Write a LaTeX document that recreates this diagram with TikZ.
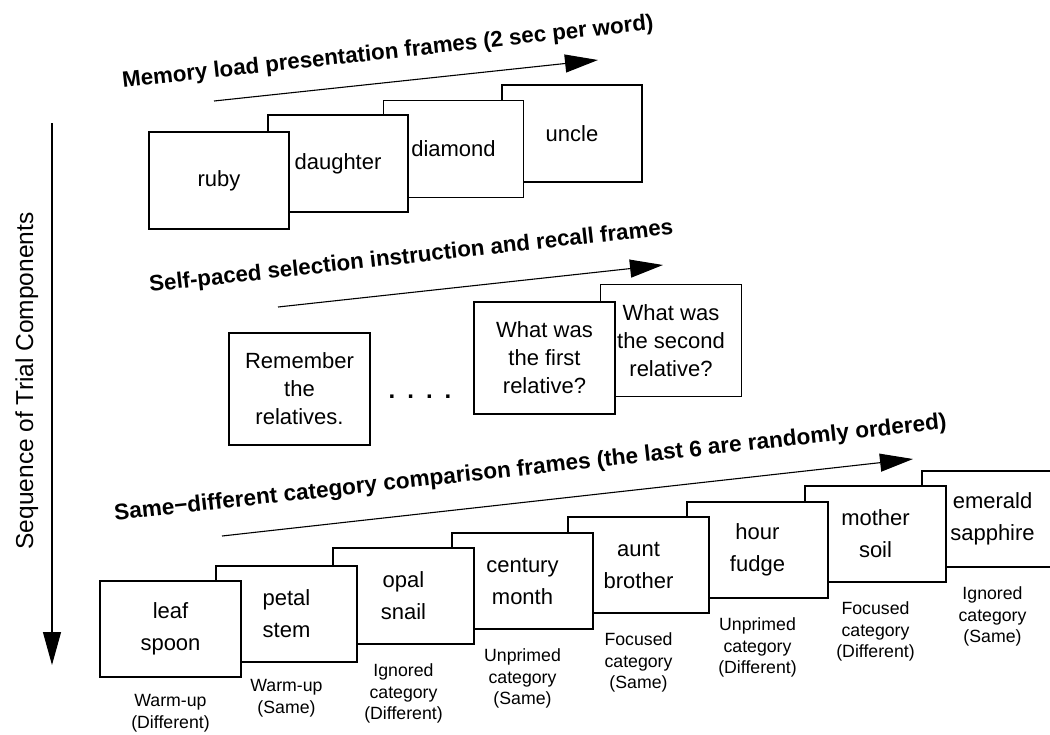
\documentclass[tikz,border=0pt]{standalone}
\usepackage{fontspec}
\setmainfont{Liberation Sans}
\usetikzlibrary{arrows.meta}
\begin{document}
\begin{tikzpicture}[x=1pt,y=-1pt,
  topframe/.style={draw,line width=1.3pt,fill=white,minimum width=140pt,minimum height=97pt,inner sep=0pt,align=center,font=\fontsize{22}{28}\selectfont},
  midframe/.style={draw,line width=1.3pt,fill=white,minimum width=141pt,minimum height=112pt,inner sep=0pt,align=center,font=\fontsize{22}{28}\selectfont},
  botframe/.style={draw,line width=1.3pt,fill=white,minimum width=141pt,minimum height=96pt,inner sep=0pt,align=center,font=\fontsize{22}{32}\selectfont},
  caption/.style={anchor=north,inner sep=0pt,align=center,font=\fontsize{17.7}{21.5}\selectfont},
  title/.style={anchor=base west,inner sep=0pt,rotate=6.3,font=\bfseries\fontsize{22.3}{26}\selectfont},
  side/.style={anchor=base,inner sep=0pt,rotate=90,font=\fontsize{24.5}{28}\selectfont},
  dotrow/.style={anchor=base,inner sep=0pt,font=\bfseries\fontsize{24}{24}\selectfont},
  seqarrow/.style={line width=1.1pt,-{Triangle[length=33pt,width=18pt]}}]
\useasboundingbox (0,0) rectangle (1050,734);

% side label and vertical arrow
\node[side] (side) at (33,381) {Sequence of Trial Components};
\coordinate (vs) at (52,123);
\coordinate (ve) at (52,665);
\draw[seqarrow] (vs) -- (ve);

% ---- memory load presentation frames
\node[title] (t1) at (123,88) {Memory load presentation frames (2 sec per word)};
\coordinate (a1s) at (214,101);
\coordinate (a1e) at (598,60);
\draw[seqarrow] (a1s) -- (a1e);
\node[topframe] (r4) at (572,133.5) {uncle};
\node[topframe] (r3) at (453.5,149) {diamond};
\node[topframe] (r2) at (338,163.5) {daughter};
\node[topframe] (r1) at (219,180.5) {ruby};

% ---- self-paced selection instruction and recall frames
\node[title] (t2) at (150,292) {Self-paced selection instruction and recall frames};
\coordinate (a2s) at (278,307);
\coordinate (a2e) at (663,265);
\draw[seqarrow] (a2s) -- (a2e);
\node[midframe] (m3) at (671,340.5) {What was\\the second\\relative?};
\node[midframe] (m2) at (544.5,358) {What was\\the first\\relative?};
\node[midframe] (m1) at (299.5,389) {Remember\\the\\relatives.};
\node[dotrow] (dots) at (420,398) {.\hspace{12pt}.\hspace{12pt}.\hspace{12pt}.};

% ---- same-different category comparison frames
\node[title,font=\bfseries\fontsize{22.6}{26}\selectfont] (t3) at (115,520.5) {Same−different category comparison frames (the last 6 are randomly ordered)};
\coordinate (a3s) at (222,536);
\coordinate (a3e) at (913,459);
\draw[seqarrow] (a3s) -- (a3e);
\node[botframe] (b8) at (992.5,519) {emerald\\sapphire};
\node[botframe] (b7) at (875.5,534) {mother\\soil};
\node[botframe] (b6) at (757.5,550) {hour\\fudge};
\node[botframe] (b5) at (638.5,565) {aunt\\brother};
\node[botframe] (b4) at (522.5,581) {century\\month};
\node[botframe] (b3) at (403.5,596) {opal\\snail};
\node[botframe] (b2) at (286.5,614) {petal\\stem};
\node[botframe] (b1) at (170.5,629) {leaf\\spoon};

\node[caption] (c1) at ([yshift=-16.5pt]b1.south) {Warm-up\\(Different)};
\node[caption] (c2) at ([yshift=-16.5pt]b2.south) {Warm-up\\(Same)};
\node[caption] (c3) at ([yshift=-19pt]b3.south) {Ignored\\category\\(Different)};
\node[caption] (c4) at ([yshift=-19pt]b4.south) {Unprimed\\category\\(Same)};
\node[caption] (c5) at ([yshift=-19pt]b5.south) {Focused\\category\\(Same)};
\node[caption] (c6) at ([yshift=-19pt]b6.south) {Unprimed\\category\\(Different)};
\node[caption] (c7) at ([yshift=-19pt]b7.south) {Focused\\category\\(Different)};
\node[caption] (c8) at ([yshift=-19pt]b8.south) {Ignored\\category\\(Same)};
\end{tikzpicture}
\end{document}
